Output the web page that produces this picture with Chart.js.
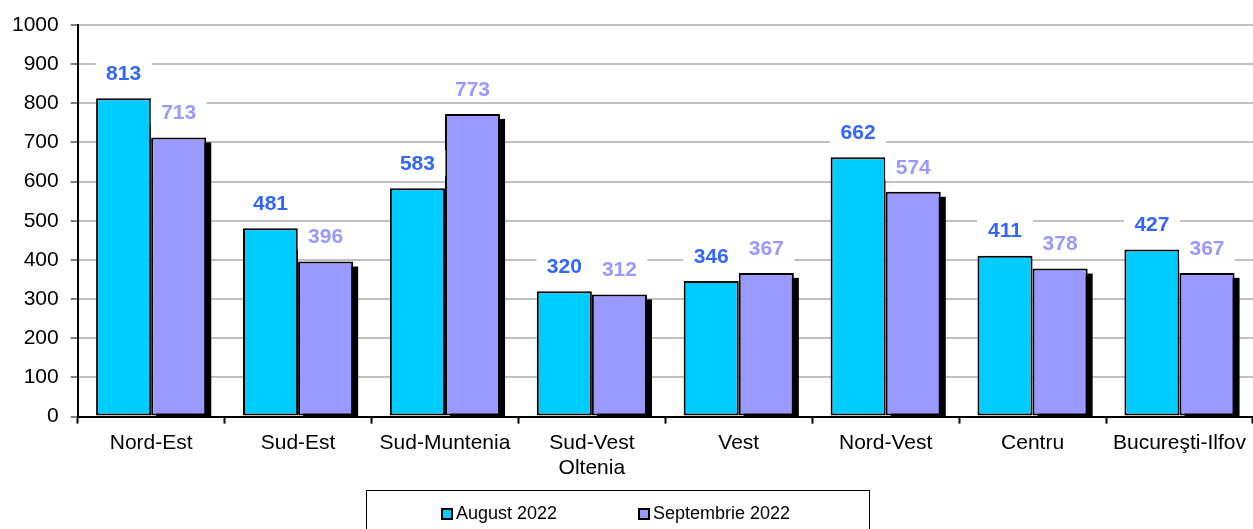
<!DOCTYPE html>
<html><head><meta charset="utf-8">
<script src="https://cdn.jsdelivr.net/npm/chart.js@4"></script>
<style>html,body{margin:0;padding:0;background:#fff}#wrap{width:1253px;height:529px}</style>
</head><body><div id="wrap"><canvas id="c" width="1253" height="529"></canvas></div>
<script>
const categories = ['Nord-Est','Sud-Est','Sud-Muntenia',['Sud-Vest','Oltenia'],'Vest','Nord-Vest','Centru','Bucureşti-Ilfov'];
const august2022 = [813,481,583,320,346,662,411,427];
const septembrie2022 = [713,396,773,312,367,574,378,367];
const seriesNames = ['August 2022','Septembrie 2022'];
const yTicks = [0,100,200,300,400,500,600,700,800,900,1000];

const FONT = 'Liberation Sans, Arial, sans-serif';
const labelColors = ['#3366FF','#9999FF'];

const shadowPlugin = {
  id:'shadow',
  beforeDatasetsDraw(chart){
    const ctx = chart.ctx, a = chart.chartArea;
    const i = chart.data.datasets.length-1;
    ctx.save();
    ctx.beginPath(); ctx.rect(a.left, a.top-20, a.right-a.left+10, a.bottom-a.top+20); ctx.clip();
    chart.getDatasetMeta(i).data.forEach(b=>{
      const w=b.width, l=b.x-w/2;
      ctx.fillStyle='#000';
      ctx.fillRect(l+5, b.y+5, w, b.base-b.y);
    });
    ctx.restore();
  }
};
const labelPlugin = {
  id:'vlabels',
  afterDatasetsDraw(chart){
    const ctx = chart.ctx;
    ctx.save();
    ctx.font = 'bold 21px '+FONT;
    ctx.textAlign='center'; ctx.textBaseline='middle';
    chart.data.datasets.forEach((ds,i)=>{
      chart.getDatasetMeta(i).data.forEach((b,j)=>{
        const y=b.y-25;
        ctx.fillStyle='#fff';
        ctx.fillRect(b.x-28, y-13, 56, 26);
        ctx.fillStyle=labelColors[i];
        ctx.fillText(String(ds.data[j]), b.x, y+1);
      });
    });
    ctx.restore();
  }
};
const legendPlugin = {
  id:'customLegend',
  afterDraw(chart){
    const ctx=chart.ctx; ctx.save();
    ctx.strokeStyle='#000'; ctx.lineWidth=1;
    ctx.strokeRect(366.5, 490.5, 503, 45);
    ctx.font='18px '+FONT; ctx.textBaseline='middle'; ctx.textAlign='left';
    const xs=[441,638], cy=514;
    chart.data.datasets.forEach((ds,i)=>{
      ctx.fillStyle=ds.backgroundColor;
      ctx.fillRect(xs[i]+1, cy-5, 10, 10);
      ctx.strokeStyle='#000'; ctx.lineWidth=2;
      ctx.strokeRect(xs[i]+1, cy-5, 10, 10);
      ctx.fillStyle='#000';
      ctx.fillText(ds.label, xs[i]+15, cy);
    });
    ctx.restore();
  }
};

new Chart(document.getElementById('c'),{
  type:'bar',
  data:{labels:categories,datasets:[
    {label:seriesNames[0],data:august2022,backgroundColor:'#00CCFF',borderColor:'#000',borderWidth:2,borderSkipped:false,categoryPercentage:0.75,barPercentage:1},
    {label:seriesNames[1],data:septembrie2022,backgroundColor:'#9999FF',borderColor:'#000',borderWidth:2,borderSkipped:false,categoryPercentage:0.75,barPercentage:1}
  ]},
  options:{
    responsive:false,animation:false,devicePixelRatio:1,
    layout:{padding:{top:25,right:0,left:0,bottom:41}},
    plugins:{legend:{display:false},tooltip:{enabled:false}},
    scales:{
      x:{grid:{display:true,offset:true,drawOnChartArea:false,tickLength:7,tickColor:'#000',tickWidth:2},
         border:{color:'#000',width:2},
         ticks:{font:{family:FONT,size:21},color:'#000',padding:7,maxRotation:0,autoSkip:false}},
      y:{min:0,max:1000,afterBuildTicks(s){s.ticks=yTicks.map(v=>({value:v}));},
         grid:{color:'#C0C0C0',lineWidth:2,tickLength:7,tickColor:'#000',tickWidth:1},
         border:{color:'#000',width:2},
         ticks:{font:{family:FONT,size:21},color:'#000',padding:12,callback:v=>String(v)}}
    }
  },
  plugins:[shadowPlugin,labelPlugin,legendPlugin]
});
</script></body></html>
